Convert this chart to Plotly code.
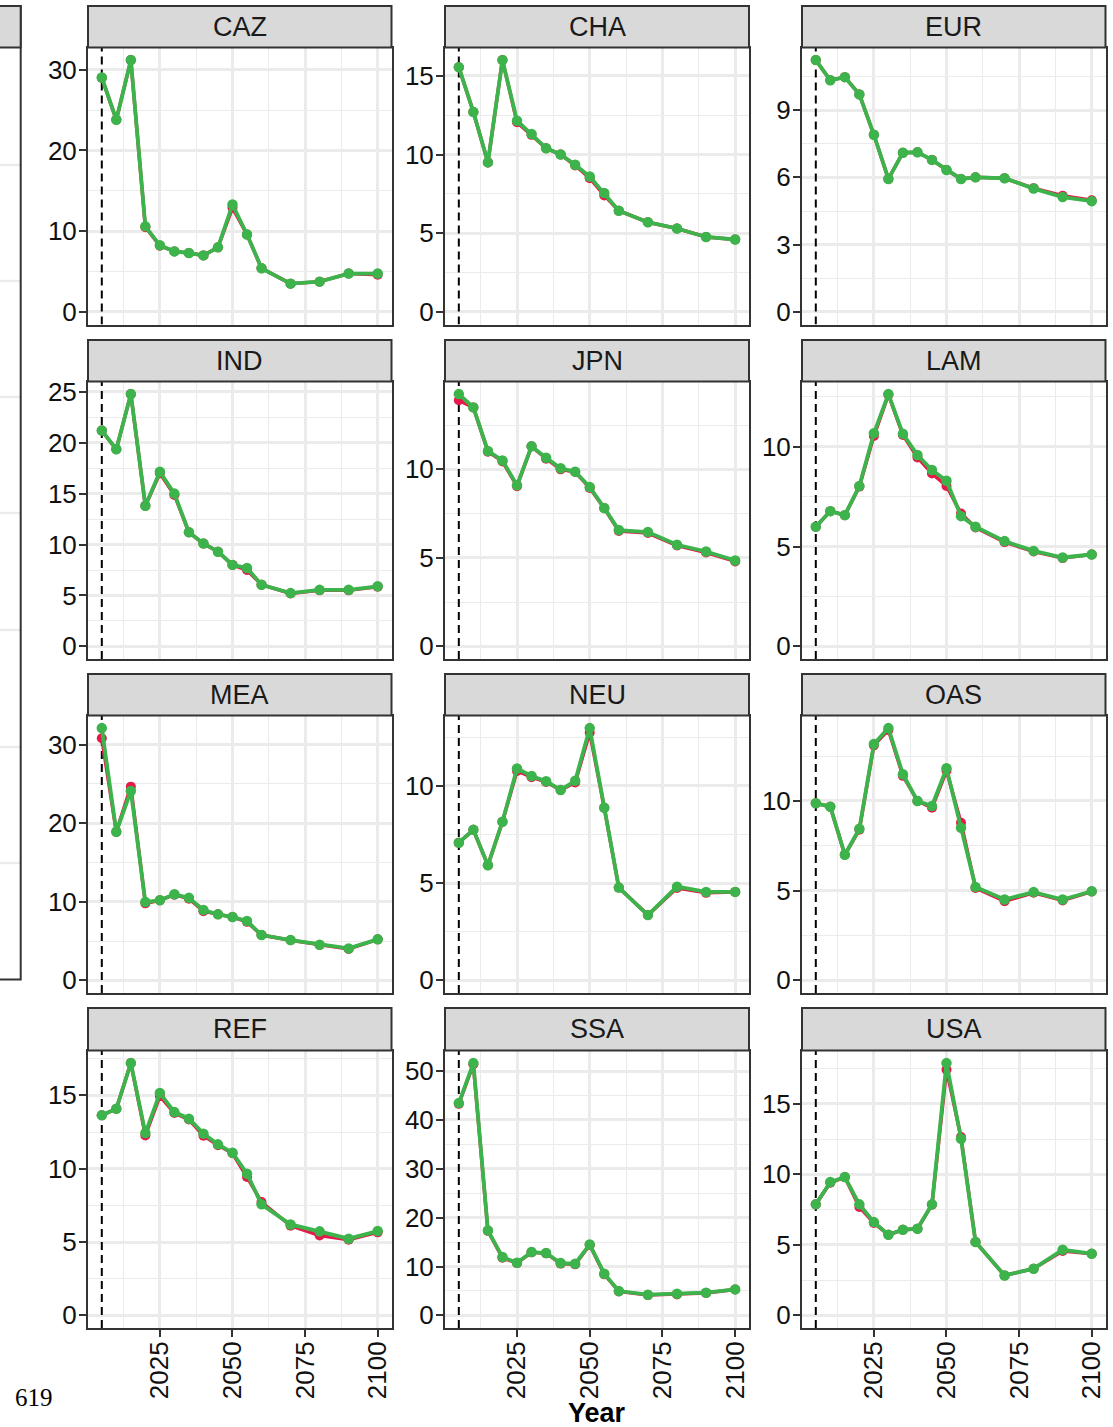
import plotly.graph_objects as go

# ---------------- data ----------------
years = [2005, 2010, 2015, 2020, 2025, 2030, 2035, 2040, 2045, 2050, 2055, 2060, 2070, 2080, 2090, 2100]
regions = ["CAZ", "CHA", "EUR", "IND", "JPN", "LAM", "MEA", "NEU", "OAS", "REF", "SSA", "USA"]
y_tick_steps = [10, 5, 3, 5, 5, 5, 10, 5, 5, 5, 10, 5]

caz_green = [29.05, 23.8, 31.2, 10.6, 8.25, 7.5, 7.3, 7.0, 8.0, 13.3, 9.6, 5.4, 3.5, 3.75, 4.75, 4.75]
caz_red = [29.0, 23.8, 31.2, 10.5, 8.2, 7.5, 7.3, 7.0, 8.0, 12.9, 9.6, 5.4, 3.5, 3.75, 4.75, 4.6]

cha_green = [15.55, 12.7, 9.5, 16.0, 12.15, 11.3, 10.4, 10.0, 9.35, 8.6, 7.55, 6.43, 5.7, 5.3, 4.76, 4.6]
cha_red = [15.55, 12.7, 9.5, 16.0, 12.05, 11.25, 10.4, 10.0, 9.3, 8.5, 7.4, 6.43, 5.7, 5.3, 4.76, 4.6]

eur_green = [11.23, 10.33, 10.47, 9.7, 7.9, 5.93, 7.1, 7.12, 6.78, 6.33, 5.93, 6.0, 5.96, 5.5, 5.12, 4.94]
eur_red = [11.23, 10.33, 10.47, 9.7, 7.9, 5.93, 7.1, 7.12, 6.78, 6.33, 5.93, 6.0, 5.96, 5.52, 5.18, 4.98]

ind_green = [21.2, 19.35, 24.77, 13.8, 17.15, 15.0, 11.2, 10.1, 9.3, 8.0, 7.7, 6.05, 5.23, 5.55, 5.55, 5.9]
ind_red = [21.2, 19.35, 24.77, 13.8, 17.0, 14.87, 11.2, 10.1, 9.3, 8.0, 7.5, 6.05, 5.2, 5.5, 5.5, 5.85]

jpn_green = [14.25, 13.5, 11.04, 10.5, 9.1, 11.3, 10.66, 10.06, 9.87, 9.0, 7.82, 6.57, 6.46, 5.74, 5.36, 4.85]
jpn_red = [13.9, 13.5, 11.0, 10.45, 9.05, 11.3, 10.6, 10.0, 9.85, 8.95, 7.8, 6.52, 6.4, 5.7, 5.3, 4.8]

lam_green = [5.99, 6.77, 6.57, 8.03, 10.67, 12.63, 10.64, 9.58, 8.83, 8.29, 6.52, 5.99, 5.27, 4.78, 4.45, 4.6]
lam_red = [5.99, 6.77, 6.57, 8.0, 10.53, 12.6, 10.58, 9.46, 8.66, 8.03, 6.65, 5.95, 5.22, 4.75, 4.42, 4.6]

mea_green = [32.1, 18.9, 24.1, 9.97, 10.2, 10.95, 10.5, 8.95, 8.4, 8.06, 7.55, 5.77, 5.13, 4.54, 4.07, 5.22]
mea_red = [30.8, 18.9, 24.65, 9.8, 10.2, 10.9, 10.4, 8.8, 8.4, 8.06, 7.45, 5.77, 5.1, 4.5, 4.0, 5.22]

neu_green = [7.08, 7.74, 5.92, 8.16, 10.89, 10.51, 10.24, 9.79, 10.26, 12.97, 8.88, 4.77, 3.36, 4.82, 4.55, 4.55]
neu_red = [7.08, 7.74, 5.92, 8.16, 10.77, 10.45, 10.2, 9.79, 10.17, 12.74, 8.88, 4.77, 3.36, 4.75, 4.5, 4.55]

oas_green = [9.87, 9.68, 7.0, 8.45, 13.17, 14.06, 11.49, 10.0, 9.72, 11.82, 8.51, 5.21, 4.51, 4.92, 4.51, 4.97]
oas_red = [9.87, 9.68, 7.0, 8.4, 13.1, 13.95, 11.4, 10.0, 9.62, 11.68, 8.79, 5.15, 4.41, 4.88, 4.45, 4.95]

ref_green = [13.64, 14.09, 17.2, 12.43, 15.16, 13.86, 13.41, 12.39, 11.66, 11.09, 9.66, 7.57, 6.2, 5.73, 5.23, 5.75]
ref_red = [13.64, 14.09, 17.2, 12.27, 14.95, 13.8, 13.35, 12.25, 11.6, 11.05, 9.43, 7.73, 6.11, 5.45, 5.16, 5.66]

ssa_green = [43.45, 51.64, 17.4, 11.94, 10.78, 12.96, 12.76, 10.71, 10.57, 14.53, 8.53, 4.98, 4.23, 4.43, 4.64, 5.32]
ssa_red = [43.3, 51.4, 17.3, 11.8, 10.7, 12.9, 12.7, 10.6, 10.45, 14.4, 8.4, 4.9, 4.15, 4.3, 4.6, 5.3]

usa_green = [7.87, 9.45, 9.8, 7.87, 6.61, 5.72, 6.07, 6.14, 7.87, 17.88, 12.52, 5.2, 2.83, 3.31, 4.65, 4.37]
usa_red = [7.87, 9.4, 9.8, 7.68, 6.55, 5.72, 6.07, 6.14, 7.85, 17.41, 12.64, 5.2, 2.83, 3.31, 4.56, 4.37]

green_series = [caz_green, cha_green, eur_green, ind_green, jpn_green, lam_green,
                mea_green, neu_green, oas_green, ref_green, ssa_green, usa_green]
red_series = [caz_red, cha_red, eur_red, ind_red, jpn_red, lam_red,
              mea_red, neu_red, oas_red, ref_red, ssa_red, usa_red]

# ---------------- layout constants ----------------
W, H = 1113, 1427
FONT = "Liberation Sans, Arial, Helvetica, sans-serif"
RED = "#E6194B"
GREEN = "#3CB44B"
GRID = "#EBEBEB"
BORDER = "#333333"
col_px = [(88, 391.5), (445, 749), (802, 1105.5)]
row_px = [(47.5, 324.5), (381.5, 659), (715.5, 993), (1050.5, 1328)]
strip_px = [(6, 47.5), (340, 381.5), (674, 715.5), (1008, 1050.5)]


def px_x(v):
    return v / W


def px_y(v):
    return 1 - v / H


fig = go.Figure()
shapes = []
annotations = []

xmin, xmax = min(years), max(years)
xspan = xmax - xmin
x_range = [xmin - 0.05 * xspan, xmax + 0.05 * xspan]

layout_axes = {}
for i, reg in enumerate(regions):
    r, c = divmod(i, 3)
    k = i + 1
    xa = "x" if k == 1 else f"x{k}"
    ya = "y" if k == 1 else f"y{k}"
    xkey = "xaxis" if k == 1 else f"xaxis{k}"
    ykey = "yaxis" if k == 1 else f"yaxis{k}"

    ymax = max(max(green_series[i]), max(red_series[i]))
    y_range = [-0.05 * ymax, 1.05 * ymax]
    step = y_tick_steps[i]
    bottom = (r == 3)

    # dashed reference line at the first year (under the data)
    fig.add_trace(go.Scatter(x=[years[0], years[0]], y=y_range, mode="lines",
                             line=dict(color="black", width=2, dash="8px,5px"),
                             xaxis=xa, yaxis=ya, showlegend=False, hoverinfo="skip"))
    fig.add_trace(go.Scatter(x=years, y=red_series[i], mode="lines+markers",
                             line=dict(color=RED, width=3.5), marker=dict(size=10, color=RED),
                             xaxis=xa, yaxis=ya, showlegend=False, hoverinfo="x+y"))
    fig.add_trace(go.Scatter(x=years, y=green_series[i], mode="lines+markers",
                             line=dict(color=GREEN, width=3.8), marker=dict(size=10.5, color=GREEN),
                             xaxis=xa, yaxis=ya, showlegend=False, hoverinfo="x+y"))

    layout_axes[xkey] = dict(
        domain=[px_x(col_px[c][0]), px_x(col_px[c][1])], anchor=ya, automargin=False,
        range=x_range, tickmode="linear", tick0=2000, dtick=25,
        showticklabels=bottom, ticks="outside" if bottom else "",
        ticklen=7, tickwidth=2, tickcolor=BORDER, tickangle=-90, ticklabelstandoff=-6,
        tickfont=dict(family=FONT, size=26, color="#111111"),
        showgrid=True, gridcolor=GRID, gridwidth=2.6,
        minor=dict(tick0=2000, dtick=12.5, showgrid=True, gridcolor=GRID, gridwidth=1.4, ticks=""),
        zeroline=False, showline=True, mirror=True, linecolor=BORDER, linewidth=2,
    )
    layout_axes[ykey] = dict(
        domain=[px_y(row_px[r][1]), px_y(row_px[r][0])], anchor=xa, automargin=False,
        range=y_range, tickmode="linear", tick0=0, dtick=step,
        ticks="outside", ticklen=7, tickwidth=2, tickcolor=BORDER, ticklabelstandoff=-3,
        tickfont=dict(family=FONT, size=26, color="#111111"),
        showgrid=True, gridcolor=GRID, gridwidth=2.6,
        minor=dict(tick0=0, dtick=step / 2, showgrid=True, gridcolor=GRID, gridwidth=1.4, ticks=""),
        zeroline=False, showline=True, mirror=True, linecolor=BORDER, linewidth=2,
    )

    # strip
    shapes.append(dict(type="rect", xref="paper", yref="paper",
                       x0=px_x(col_px[c][0]), x1=px_x(col_px[c][1]),
                       y0=px_y(strip_px[r][1]), y1=px_y(strip_px[r][0]),
                       fillcolor="#D9D9D9", line=dict(color=BORDER, width=2)))
    annotations.append(dict(text=reg, xref="paper", yref="paper",
                            x=px_x((col_px[c][0] + col_px[c][1]) / 2),
                            y=px_y((strip_px[r][0] + strip_px[r][1]) / 2),
                            showarrow=False, xanchor="center", yanchor="middle",
                            font=dict(family=FONT, size=27, color="#1A1A1A")))

# cropped neighbouring panel at the far left
for gy in [165, 281, 397, 513, 630, 747, 863]:
    shapes.append(dict(type="line", xref="paper", yref="paper", x0=0, x1=px_x(20),
                       y0=px_y(gy), y1=px_y(gy), line=dict(color=GRID, width=2.4)))
shapes.append(dict(type="rect", xref="paper", yref="paper", x0=px_x(-5), x1=px_x(20.7),
                   y0=px_y(979.5), y1=px_y(6), line=dict(color=BORDER, width=2)))
shapes.append(dict(type="rect", xref="paper", yref="paper", x0=px_x(-5), x1=px_x(20.7),
                   y0=px_y(47.5), y1=px_y(6), fillcolor="#D9D9D9", line=dict(color=BORDER, width=2)))

# axis title and page number
annotations.append(dict(text="<b>Year</b>", xref="paper", yref="paper",
                        x=px_x((col_px[1][0] + col_px[1][1]) / 2), y=px_y(1413),
                        showarrow=False, xanchor="center", yanchor="middle",
                        font=dict(family=FONT, size=27, color="black")))
annotations.append(dict(text="619", xref="paper", yref="paper",
                        x=px_x(34), y=px_y(1397),
                        showarrow=False, xanchor="center", yanchor="middle",
                        font=dict(family="Liberation Serif, Times New Roman, serif", size=25, color="black")))

fig.update_layout(
    width=W, height=H,
    margin=dict(l=0, r=0, t=0, b=0, autoexpand=False),
    paper_bgcolor="white", plot_bgcolor="white",
    shapes=shapes, annotations=annotations,
    showlegend=False,
    **layout_axes,
)

fig.write_html("out.html", config={"displayModeBar": False},
               post_script="document.body.style.margin='0px';document.body.style.overflow='hidden';")
